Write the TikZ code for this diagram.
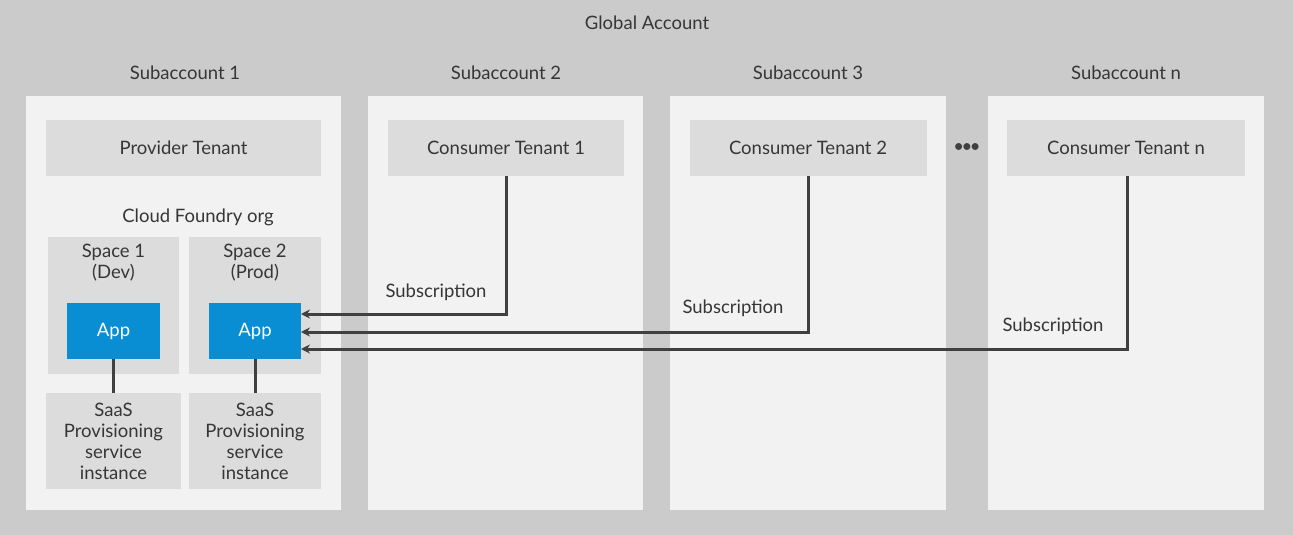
\documentclass[tikz,border=0pt]{standalone}
\usepackage{fontspec}
\setmainfont{Lato}
\usetikzlibrary{arrows.meta}
\definecolor{bgc}{HTML}{CBCBCB}
\definecolor{subc}{HTML}{F2F2F2}
\definecolor{tenc}{HTML}{DCDCDC}
\definecolor{appc}{HTML}{0A8ED3}
\definecolor{txtc}{HTML}{363636}
\definecolor{linec}{HTML}{404040}
\tikzset{
  fnt/.style={font=\fontsize{18.5}{21}\selectfont},
  box/.style={fill=subc, draw=none},
  tenant/.style={fill=tenc, draw=none, text=txtc, fnt},
  lbl/.style={text=txtc, fnt, inner sep=0pt},
  appbox/.style={fill=appc, draw=none, text=white, fnt},
  conn/.style={draw=linec, line width=3pt},
  arr/.style={conn, -{Stealth[length=9pt,width=9pt]}},
}
\begin{document}
\begin{tikzpicture}[x=1pt,y=-1pt]
\fill[bgc] (0,0) rectangle (1293,535);
\useasboundingbox (0,0) rectangle (1293,535);
\node[lbl] (ga) at (647,23) {Global Account};
% subaccounts
\node[lbl] (s1l) at (185,73) {Subaccount 1};
\node[lbl] (s2l) at (506,73) {Subaccount 2};
\node[lbl] (s3l) at (808,73) {Subaccount 3};
\node[lbl] (snl) at (1126,73) {Subaccount n};
\fill[box] (26,96) rectangle (341,510);
\fill[box] (368,96) rectangle (643,510);
\fill[box] (670,96) rectangle (946,510);
\fill[box] (988,96) rectangle (1264,510);
% tenants
\node[tenant, minimum width=275pt, minimum height=56pt] (pt) at (183.5,148) {Provider Tenant};
\node[tenant, minimum width=236pt, minimum height=56pt] (ct1) at (506,148) {Consumer Tenant 1};
\node[tenant, minimum width=237pt, minimum height=56pt] (ct2) at (808,148) {Consumer Tenant 2};
\node[tenant, minimum width=238pt, minimum height=56pt] (ctn) at (1126,148) {Consumer Tenant n};
\node[lbl, text=linec] (dots) at (967,148) {\textbullet\hspace{-2.5pt}\textbullet\hspace{-2.5pt}\textbullet};
% cloud foundry
\node[lbl] (cf) at (198,217) {Cloud Foundry org};
\node[tenant, minimum width=131pt, minimum height=137pt, anchor=north west, inner sep=0pt] (sp1) at (48,237) {};
\node[tenant, minimum width=132pt, minimum height=137pt, anchor=north west, inner sep=0pt] (sp2) at (189,237) {};
\node[lbl, align=center] (sp1t) at (113.5,263) {Space 1\\(Dev)};
\node[lbl, align=center] (sp2t) at (255,263) {Space 2\\(Prod)};
\node[appbox, minimum width=93pt, minimum height=56pt] (app1) at (113.5,331) {App};
\node[appbox, minimum width=92pt, minimum height=56pt] (app2) at (255,331) {App};
\node[tenant, minimum width=135pt, minimum height=96pt, align=center, inner sep=0pt] (saas1) at (113.5,441) {SaaS\\Provisioning\\service\\instance};
\node[tenant, minimum width=132pt, minimum height=96pt, align=center, inner sep=0pt] (saas2) at (255,441) {SaaS\\Provisioning\\service\\instance};
\draw[conn] (app1.south) -- (saas1.north);
\draw[conn] (app2.south) -- (saas2.north);
% subscriptions
\coordinate (a1) at (301,314);
\coordinate (a2) at (301,332);
\coordinate (a3) at (301,349);
\draw[arr] (ct1.south) |- (a1);
\draw[arr] (ct2.south) |- (a2);
\draw[arr] (ctn.south -| 1127,0) |- (a3);
\node[lbl] (sub1) at (436,292) {Subscription};
\node[lbl] (sub2) at (733,308) {Subscription};
\node[lbl] (sub3) at (1053,326) {Subscription};
\end{tikzpicture}
\end{document}
